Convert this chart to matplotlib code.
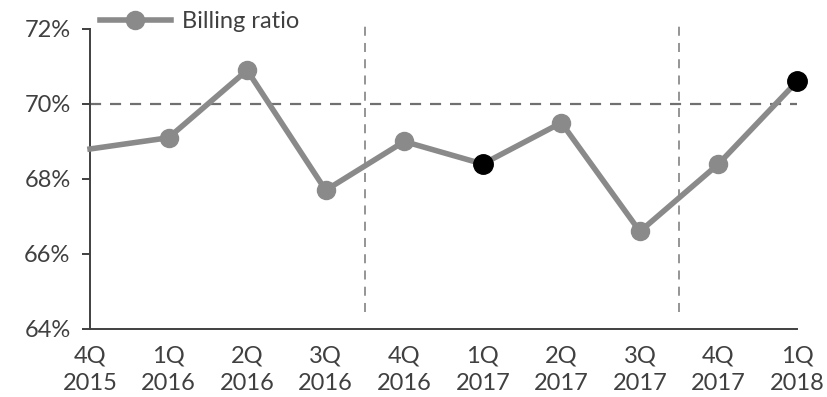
import matplotlib
matplotlib.use('Agg')
import matplotlib.pyplot as plt
from matplotlib.ticker import FuncFormatter

quarters = ['4Q\n2015', '1Q\n2016', '2Q\n2016', '3Q\n2016', '4Q\n2016',
            '1Q\n2017', '2Q\n2017', '3Q\n2017', '4Q\n2017', '1Q\n2018']
billing_ratio = [68.8, 69.1, 70.9, 67.7, 69.0, 68.4, 69.5, 66.6, 68.4, 70.6]
highlight_idx = [5, 9]
target_level = 70.0
year_breaks = [3.5, 7.5]

plt.rcParams['font.family'] = ['Lato', 'DejaVu Sans']
text_col = '#404040'
line_col = '#8a8a8a'
fs = 17

fig = plt.figure(figsize=(8.28, 3.97), dpi=100)
ax = fig.add_axes([0.1087, 0.1713, 0.8539, 0.7557])

x = list(range(len(billing_ratio)))
marked = [i for i in x if i != 0 and i not in highlight_idx]
ax.plot(x, billing_ratio, color=line_col, lw=4, marker='o', ms=13,
        markevery=marked, label='Billing ratio', zorder=3, clip_on=False)
ax.plot([x[i] for i in highlight_idx], [billing_ratio[i] for i in highlight_idx],
        ls='none', marker='o', ms=14, color='black', zorder=4, clip_on=False)

# target line and year separators
ax.axhline(target_level, color='#707070', lw=1.6, ls=(0, (5, 4)), zorder=2)
for xb in year_breaks:
    ax.plot([xb, xb], [64.45, 72.2], color='#8c8c8c', lw=1.3,
            ls=(0, (5, 4)), clip_on=False, zorder=1)

ax.set_xlim(0, 9)
ax.set_ylim(64, 72)
ax.set_yticks([64, 66, 68, 70, 72])
ax.yaxis.set_major_formatter(FuncFormatter(lambda v, p: f'{v:.0f}%'))
ax.set_xticks(x)
ax.set_xticklabels(quarters, linespacing=1.38)
ax.tick_params(axis='y', length=6, width=1.4, color=text_col,
               labelsize=fs, labelcolor=text_col, pad=8)
ax.tick_params(axis='x', length=0, labelsize=fs, labelcolor=text_col, pad=12)

for s in ['top', 'right']:
    ax.spines[s].set_visible(False)
for s in ['left', 'bottom']:
    ax.spines[s].set_color(text_col)
    ax.spines[s].set_linewidth(1.4)

leg = ax.legend(loc='center left', bbox_to_anchor=(0.014, 1.025), frameon=False,
                fontsize=fs, handlelength=3.0, handletextpad=0.47,
                borderaxespad=0, borderpad=0)
for t in leg.get_texts():
    t.set_color(text_col)

fig.savefig('out.png', dpi=100)
